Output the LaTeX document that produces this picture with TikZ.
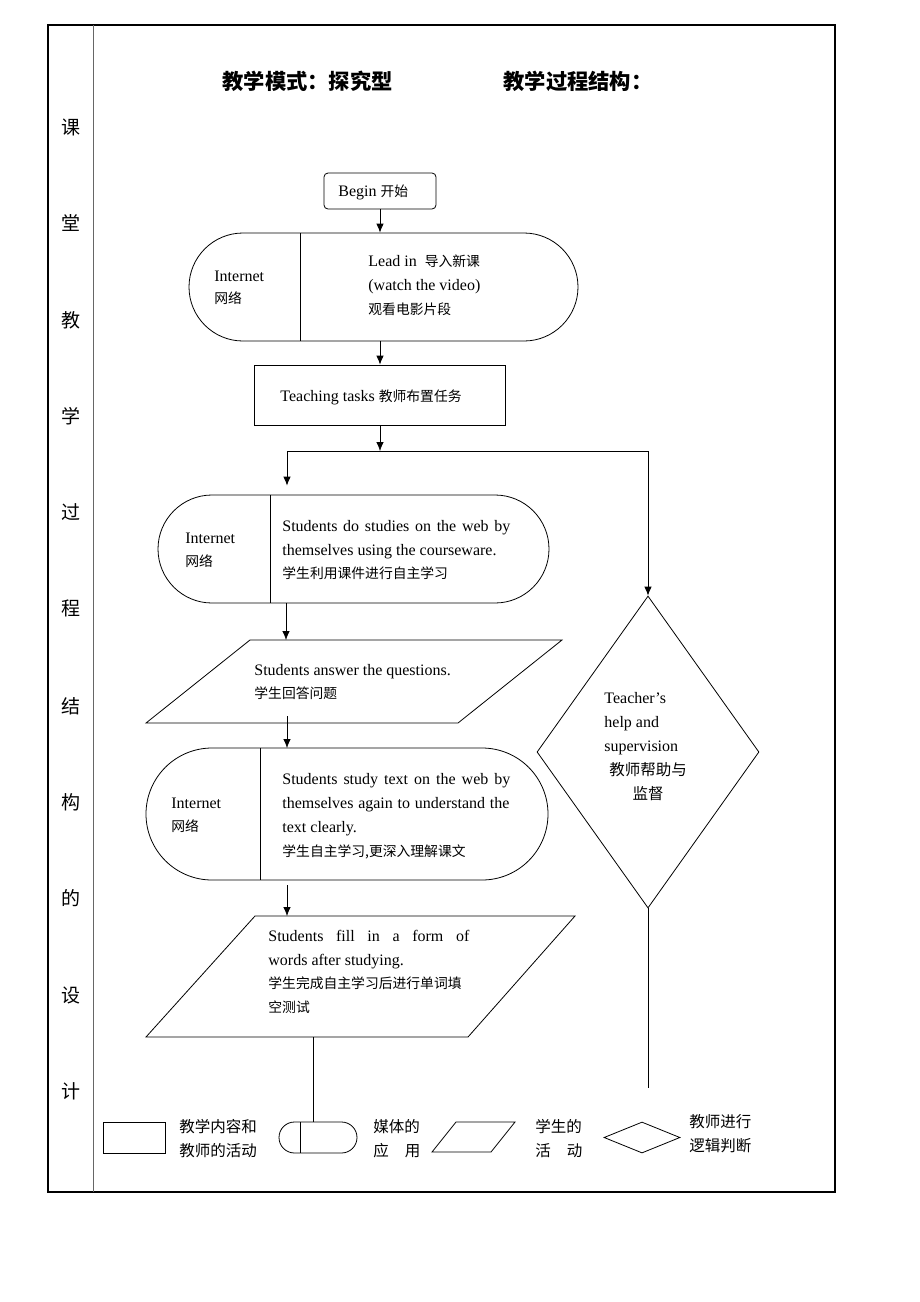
\documentclass[tikz,border=0pt]{standalone}
\usepackage{fontspec}
\setmainfont{Liberation Serif}
\newfontfamily\cjk{Noto Sans CJK SC}
\usetikzlibrary{arrows.meta,shapes.geometric}
\begin{document}
\begin{tikzpicture}[x=1pt,y=-1pt,line width=0.8pt,
  >={Latex[length=9pt,width=7.5pt]},
  en/.style={anchor=base west,inner sep=0pt,font=\fontsize{16}{18}\selectfont},
  zh/.style={anchor=base west,inner sep=0pt,font=\cjk\fontsize{13.8}{16}\selectfont},
  zhl/.style={anchor=base west,inner sep=0pt,font=\cjk\fontsize{15.5}{18}\selectfont},
  colc/.style={inner sep=0pt,anchor=base,font=\cjk\fontsize{19}{20}\selectfont},
  ttl/.style={inner sep=0pt,anchor=base west,font=\cjk\bfseries\fontsize{21.3}{22}\selectfont},
  term/.style={draw,rectangle,inner sep=0pt,minimum height=#1,rounded corners=#1/2},
  boxr/.style={draw,rectangle,inner sep=0pt},
  dia/.style={draw,diamond,inner sep=0pt,minimum width=222pt,minimum height=312pt}]
\useasboundingbox (0,0) rectangle (920,1302);
% frame
\draw[line width=1.3pt] (48,25) rectangle (835,1192);
\draw[line width=0.8pt,black!60] (93,25) -- (93,1192);
% left column
\foreach \c/\y [count=\i] in {课/127,堂/223,教/320,学/416,过/512,程/608,结/706,构/802,的/898,设/995,计/1091}
  \node[colc] (col\i) at (71,\y+7) {\c};
% title
\node[ttl] (t1) at (222,89) {教学模式：探究型};
\node[ttl] (t2) at (503,89) {教学过程结构：};
% begin
\node[boxr,rounded corners=4pt,minimum width=112pt,minimum height=36pt] (begin) at (380,191) {};
\node[en] (beginT) at (338,196) {Begin {\cjk\fontsize{13.8}{16}\selectfont 开始}};
% lead in
\node[term=108pt,minimum width=389pt] (lead) at (383.5,287) {};
\draw (300,233) -- (300,341);
\node[en] (leadA) at (214,281) {Internet};
\node[zh] (leadB) at (214,303) {网络};
\node[en] (leadC) at (368,266) {Lead in \ {\cjk\fontsize{13.8}{16}\selectfont 导入新课}};
\node[en] (leadD) at (368,290) {(watch the video)};
\node[zh] (leadE) at (368,314) {观看电影片段};
% tasks
\node[boxr,minimum width=251pt,minimum height=60pt] (tasks) at (379.5,395) {};
\node[en] (tasksT) at (280,401) {Teaching tasks {\cjk\fontsize{13.8}{16}\selectfont 教师布置任务}};
% web1
\node[term=108pt,minimum width=391pt] (web1) at (353.5,549) {};
\draw (270,495) -- (270,603);
\node[en] (w1a) at (185,543) {Internet};
\node[zh] (w1b) at (185,566) {网络};
\node[en] (w1c) at (282,531) {\makebox[228pt][s]{Students do studies on the web by}};
\node[en] (w1d) at (282,555) {themselves using the courseware.};
\node[zh] (w1e) at (282,578) {学生利用课件进行自主学习};
% answer parallelogram
\coordinate (a1) at (250,640); \coordinate (a2) at (562,640);
\coordinate (a3) at (458,723); \coordinate (a4) at (146,723);
\draw (a1) -- (a2) -- (a3) -- (a4) -- cycle;
\node[en] (ansA) at (254,675) {Students answer the questions.};
\node[zh] (ansB) at (254,698) {学生回答问题};
% web2
\node[term=132pt,minimum width=402pt] (web2) at (347,814) {};
\draw (260,748) -- (260,880);
\node[en] (w2a) at (171,808) {Internet};
\node[zh] (w2b) at (171,831) {网络};
\node[en] (w2c) at (282,784) {\makebox[228pt][s]{Students study text on the web by}};
\node[en] (w2d) at (282,808) {\makebox[227pt][s]{themselves again to understand the}};
\node[en] (w2e) at (282,832) {text clearly.};
\node[zh] (w2f) at (282,856) {学生自主学习,更深入理解课文};
% fill parallelogram
\coordinate (f1) at (255,916); \coordinate (f2) at (575,916);
\coordinate (f3) at (468,1037); \coordinate (f4) at (146,1037);
\draw (f1) -- (f2) -- (f3) -- (f4) -- cycle;
\node[en] (fA) at (268,941) {\makebox[201pt][s]{Students fill in a form of}};
\node[en] (fB) at (268,965) {words after studying.};
\node[zh] (fC) at (268,988) {学生完成自主学习后进行单词填};
\node[zh] (fD) at (268,1012) {空测试};
% diamond
\node[dia] (tc) at (648,752) {};
\node[en] (dA) at (604,703) {Teacher’s};
\node[en] (dB) at (604,727) {help and};
\node[en] (dC) at (604,751) {supervision};
\node[inner sep=0pt,anchor=base,font=\cjk\fontsize{15.5}{18}\selectfont] (dD) at (648,775) {教师帮助与};
\node[inner sep=0pt,anchor=base,font=\cjk\fontsize{15.5}{18}\selectfont] (dE) at (648,799) {监督};
% legend
\node[boxr,minimum width=62pt,minimum height=31pt] (lg1) at (134,1137.5) {};
\node[zhl] (lg1a) at (179,1132) {教学内容和};
\node[zhl] (lg1b) at (179,1156) {教师的活动};
\node[term=31pt,minimum width=78pt] (lg2) at (318,1137.5) {};
\draw (300,1122) -- (300,1153);
\node[zhl] (lg2a) at (373,1132) {媒体的};
\node[zhl] (lg2b) at (373,1156) {应\hspace{16pt}用};
\coordinate (p1) at (456,1122); \coordinate (p2) at (515,1122);
\coordinate (p3) at (491,1152); \coordinate (p4) at (432,1152);
\draw (p1) -- (p2) -- (p3) -- (p4) -- cycle;
\node[zhl] (lg3a) at (535,1132) {学生的};
\node[zhl] (lg3b) at (535,1156) {活\hspace{16pt}动};
\node[draw,diamond,inner sep=0pt,minimum width=76pt,minimum height=31pt] (lg4) at (642,1137.5) {};
\node[zhl] (lg4a) at (689,1127) {教师进行};
\node[zhl] (lg4b) at (689,1151) {逻辑判断};
% connectors
\coordinate (sL) at (287,451);
\coordinate (sR) at (648,451);
\coordinate (c1) at (286,603);
\coordinate (c2) at (286,640);
\coordinate (c3) at (287,716);
\coordinate (c4) at (287,748);
\coordinate (c5) at (287,885);
\coordinate (c6) at (287,916);
\coordinate (c7) at (313,1037);
\coordinate (c8) at (313,1122);
\coordinate (c9) at (648,1088);
\draw[->] (begin.south) -- (begin.south |- lead.north);
\draw[->] (lead.south -| begin.south) -- (tasks.north -| begin.south);
\draw[->] (tasks.south -| begin.south) -- (sL -| begin.south);
\draw (sL) -- (sR);
\draw[->,shorten >=9pt] (sL) -- (sL |- web1.north);
\draw[->] (sR) -- (tc.north);
\draw[->] (c1) -- (c2);
\draw[->] (c3) -- (c4);
\draw[->] (c5) -- (c6);
\draw (c7) -- (c8);
\draw (tc.south) -- (c9);
\end{tikzpicture}
\end{document}
